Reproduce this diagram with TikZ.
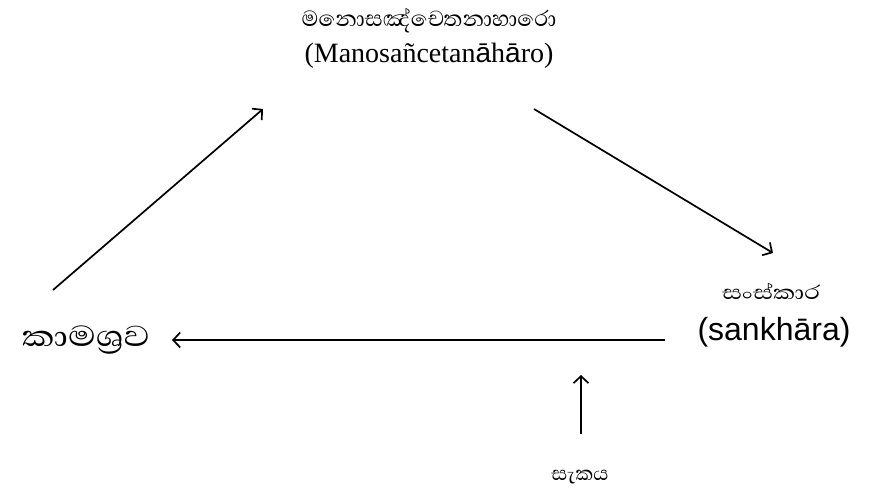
\documentclass[tikz,border=0pt]{standalone}
\usepackage{fontspec}
\setmainfont{Liberation Serif}
\newfontfamily\sinhalafont[Script=Sinhala]{Abhaya Libre}
\newfontfamily\sinhalawide[Script=Sinhala, FakeStretch=1.25]{Abhaya Libre}
\newfontfamily\arialfont{Liberation Sans}
\usetikzlibrary{arrows.meta}

\begin{document}
\begin{tikzpicture}[x=1pt, y=-1pt,
    si/.style={inner sep=0pt},
    lat/.style={inner sep=0pt},
    flow/.style={-{Straight Barb[length=7pt, width=15pt]}, line width=1.7pt}
]
\useasboundingbox (0,0) rectangle (874,495);

% the four terms
\node[si, font=\sinhalafont\fontsize{28}{32}\selectfont] (mano) at (429,21) {මනොසඤ්චෙතනාහාරො};
\node[lat, font=\fontsize{28}{32}\selectfont] (manolat) at (429,56) {(Manosañcetan{\arialfont ā}h{\arialfont ā}ro)};
\node[si, font=\sinhalawide\fontsize{25}{29}\selectfont] (sank) at (771,291) {සංස්කාර};
\node[lat, font=\arialfont\fontsize{32}{36}\selectfont] (sanklat) at (774,332) {(sankhāra)};
\node[si, font=\sinhalawide\fontsize{37}{41}\selectfont] (kama) at (86,340) {කාමශ්^^^^200dරව};
\node[si, font=\sinhalafont\fontsize{25}{29}\selectfont] (sakaya) at (580,477) {සැකය};

% arrow ends
\coordinate (k1) at (53,290);
\coordinate (m1) at (263,109);
\coordinate (m2) at (534,109);
\coordinate (s1) at (773,253);
\coordinate (s2) at (665,340);
\coordinate (k2) at (172,340);
\coordinate (y1) at (581,434);
\coordinate (y2) at (581,375);

\draw[flow] (k1) -- (m1);
\draw[flow] (m2) -- (s1);
\draw[flow] (s2) -- (k2);
\draw[flow] (y1) -- (y2);
\end{tikzpicture}
\end{document}
